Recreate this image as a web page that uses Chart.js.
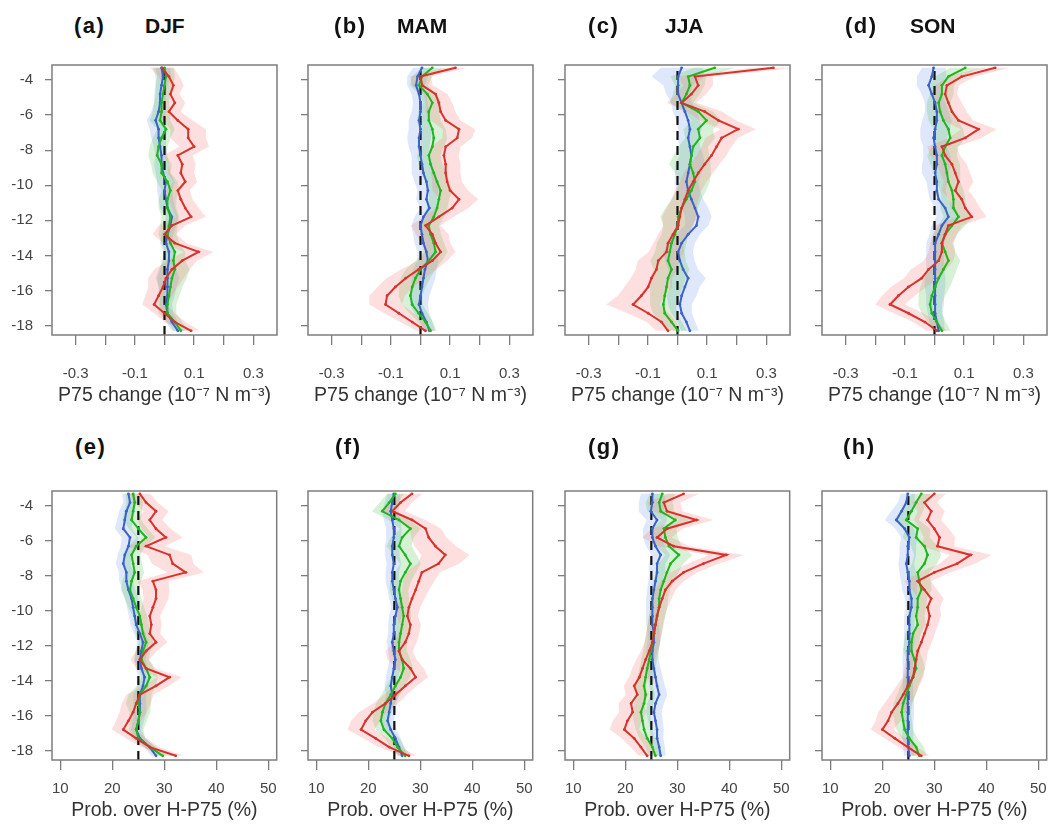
<!DOCTYPE html>
<html><head><meta charset="utf-8">
<script src="https://cdn.jsdelivr.net/npm/chart.js@4.4.1/dist/chart.umd.min.js"></script>
<style>
body{margin:0;background:#fff;width:1055px;height:830px;position:relative;overflow:hidden;font-family:"Liberation Sans",Arial,sans-serif;}
canvas{position:absolute;}
.lab{position:absolute;font-weight:bold;font-size:22px;line-height:22px;color:#111;white-space:nowrap;}
</style></head><body>
<script>
// ---------- data ----------
const levels = [-3.3,-3.8,-4.3,-4.8,-5.3,-5.8,-6.3,-6.8,-7.3,-7.8,-8.3,-8.8,-9.3,-9.8,-10.3,-10.8,-11.3,-11.8,-12.3,-12.8,-13.3,-13.8,-14.3,-14.8,-15.3,-15.8,-16.3,-16.8,-17.3,-17.8,-18.3];
const yTicks = [-4,-6,-8,-10,-12,-14,-16,-18];
const topXTicks = [-0.3,-0.2,-0.1,0,0.1,0.2,0.3];
const bottomXTicks = [10,20,30,40,50];
const panelLetters = ['(a)','(b)','(c)','(d)','(e)','(f)','(g)','(h)'];
const seasons = ['DJF','MAM','JJA','SON'];
const topRef = 0;
const bottomRef = 25;

// (a) DJF P75 change
const aBlue  = [-0.01,-0.005,-0.01,-0.015,-0.015,-0.02,-0.03,-0.02,-0.02,-0.015,-0.01,-0.01,-0.005,0.005,0.0,0.005,0.01,0.025,0.02,0.01,0.005,0.015,0.015,0.01,0.01,0.01,0.01,0.005,0.01,0.025,0.045];
const aGreen = [0.0,0.005,0.0,-0.005,-0.01,-0.01,-0.015,0.005,-0.01,-0.02,-0.025,-0.01,-0.01,0.01,0.02,0.01,0.01,0.02,0.015,0.01,0.02,0.035,0.03,0.035,0.025,0.02,0.015,0.01,0.01,0.035,0.055];
const aRed   = [-0.008,0.015,0.03,0.02,0.035,0.015,0.045,0.08,0.08,0.1,0.045,0.06,0.055,0.07,0.045,0.055,0.07,0.09,0.025,0.0,0.035,0.115,0.06,0.025,0.005,-0.005,-0.02,-0.035,0.0,0.035,0.09];
const aBlueSd  = [0.03,0.025,0.02,0.02,0.02,0.025,0.03,0.03,0.025,0.02,0.02,0.025,0.025,0.03,0.025,0.025,0.025,0.02,0.02,0.02,0.02,0.02,0.02,0.03,0.04,0.03,0.025,0.02,0.02,0.02,0.02];
const aGreenSd = [0.03,0.03,0.03,0.025,0.025,0.03,0.035,0.03,0.03,0.03,0.03,0.035,0.03,0.035,0.03,0.03,0.03,0.03,0.03,0.03,0.03,0.035,0.04,0.05,0.05,0.04,0.035,0.03,0.03,0.025,0.025];
const aRedSd   = [0.04,0.035,0.035,0.03,0.035,0.04,0.05,0.06,0.06,0.05,0.05,0.045,0.045,0.04,0.04,0.04,0.045,0.05,0.045,0.04,0.04,0.05,0.05,0.06,0.06,0.05,0.045,0.04,0.035,0.035,0.03];

// (b) MAM P75 change
const bBlue  = [0.005,-0.01,-0.015,-0.005,0.0,0.0,-0.005,0.0,-0.005,-0.005,0.0,0.005,0.01,0.02,0.025,0.02,0.03,0.01,0.0,0.005,0.01,0.02,0.025,0.015,0.01,0.005,0.0,-0.005,0.005,0.02,0.03];
const bGreen = [0.04,0.005,-0.005,0.023,0.04,0.028,0.028,0.04,0.045,0.04,0.028,0.034,0.045,0.056,0.068,0.062,0.056,0.045,0.028,0.034,0.045,0.051,0.028,0.0,-0.017,-0.028,-0.034,-0.028,-0.006,0.017,0.034];
const bRed   = [0.118,0.0,0.006,0.051,0.062,0.068,0.085,0.13,0.124,0.085,0.079,0.085,0.085,0.09,0.1,0.13,0.107,0.062,0.017,0.04,0.051,0.068,0.04,-0.006,-0.05,-0.085,-0.113,-0.118,-0.073,-0.028,0.017];
const bBlueSd  = [0.03,0.035,0.03,0.025,0.025,0.03,0.035,0.04,0.04,0.035,0.03,0.035,0.04,0.04,0.035,0.035,0.03,0.03,0.03,0.03,0.03,0.03,0.035,0.04,0.04,0.035,0.03,0.03,0.025,0.02,0.02];
const bGreenSd = [0.035,0.035,0.03,0.03,0.03,0.035,0.04,0.045,0.045,0.04,0.04,0.04,0.045,0.04,0.04,0.035,0.035,0.035,0.035,0.035,0.035,0.04,0.045,0.05,0.05,0.045,0.04,0.035,0.03,0.025,0.02];
const bRedSd   = [0.04,0.035,0.035,0.04,0.045,0.05,0.05,0.055,0.05,0.05,0.05,0.05,0.05,0.05,0.06,0.065,0.055,0.05,0.05,0.055,0.05,0.05,0.05,0.06,0.065,0.06,0.06,0.055,0.05,0.04,0.03];

// (c) JJA P75 change
const cBlue  = [0.014,0.002,0.002,0.002,0.014,0.025,0.036,0.042,0.036,0.042,0.047,0.042,0.036,0.03,0.036,0.047,0.059,0.07,0.064,0.036,0.014,0.002,0.008,0.019,0.036,0.025,0.014,0.008,0.014,0.03,0.042];
const cGreen = [0.126,0.036,0.042,0.03,0.014,0.07,0.098,0.07,0.076,0.053,0.047,0.042,0.053,0.059,0.047,0.03,0.014,0.002,0.002,-0.009,-0.02,-0.026,-0.032,-0.02,-0.032,-0.037,-0.043,-0.048,-0.043,-0.02,0.002];
const cRed   = [0.324,0.059,0.07,0.047,0.014,0.092,0.138,0.205,0.149,0.132,0.115,0.092,0.07,0.053,0.036,0.025,0.014,0.008,0.002,-0.015,-0.032,-0.037,-0.065,-0.071,-0.088,-0.099,-0.122,-0.15,-0.099,-0.054,-0.032];
const cBlueSd  = [0.07,0.09,0.05,0.04,0.035,0.04,0.04,0.04,0.035,0.035,0.04,0.05,0.045,0.04,0.04,0.04,0.045,0.045,0.04,0.04,0.045,0.05,0.05,0.05,0.06,0.05,0.05,0.04,0.035,0.03,0.03];
const cGreenSd = [0.07,0.06,0.05,0.045,0.04,0.05,0.05,0.05,0.05,0.05,0.06,0.07,0.06,0.05,0.05,0.05,0.055,0.06,0.05,0.045,0.05,0.05,0.06,0.06,0.06,0.055,0.05,0.045,0.04,0.035,0.03];
const cRedSd   = [0.07,0.06,0.05,0.05,0.05,0.06,0.06,0.06,0.055,0.05,0.05,0.05,0.05,0.045,0.045,0.045,0.05,0.06,0.05,0.05,0.05,0.06,0.07,0.07,0.07,0.08,0.08,0.09,0.07,0.05,0.04];

// (d) SON P75 change
const dBlue  = [-0.003,-0.009,-0.02,-0.009,0.002,0.008,0.008,0.002,-0.003,0.002,0.008,0.008,0.002,0.008,0.008,0.014,0.036,0.047,0.025,0.014,0.002,0.002,0.002,0.002,0.002,0.002,0.002,0.002,0.002,0.008,0.014];
const dGreen = [0.104,0.047,0.025,0.025,0.014,0.019,0.03,0.047,0.053,0.036,0.025,0.036,0.042,0.047,0.059,0.064,0.064,0.081,0.059,0.036,0.025,0.036,0.047,0.03,0.014,0.002,-0.009,-0.015,-0.009,0.008,0.025];
const dRed   = [0.205,0.092,0.042,0.036,0.047,0.059,0.081,0.149,0.104,0.025,0.036,0.059,0.07,0.081,0.07,0.092,0.104,0.126,0.047,0.036,0.025,0.025,0.014,-0.02,-0.043,-0.088,-0.122,-0.15,-0.088,-0.032,0.008];
const dBlueSd  = [0.04,0.05,0.04,0.035,0.035,0.04,0.05,0.05,0.045,0.04,0.045,0.05,0.045,0.035,0.03,0.03,0.035,0.04,0.035,0.03,0.03,0.03,0.03,0.03,0.035,0.035,0.03,0.03,0.025,0.025,0.02];
const dGreenSd = [0.05,0.045,0.04,0.04,0.04,0.045,0.05,0.05,0.05,0.045,0.05,0.05,0.045,0.04,0.04,0.04,0.045,0.05,0.045,0.04,0.035,0.035,0.04,0.045,0.05,0.05,0.045,0.04,0.035,0.03,0.03];
const dRedSd   = [0.05,0.045,0.04,0.04,0.045,0.05,0.05,0.06,0.055,0.05,0.05,0.05,0.05,0.05,0.045,0.045,0.05,0.05,0.045,0.04,0.04,0.045,0.05,0.06,0.06,0.06,0.055,0.05,0.05,0.04,0.035];

// (e) DJF probability
const eBlue  = [23.1,23.4,22.7,22.4,22.1,23.4,23.1,22.4,22.1,22.7,22.7,23.1,23.7,24.0,24.3,24.6,25.3,25.9,25.6,25.3,25.6,26.2,25.9,25.3,25.3,25.3,25.0,24.6,25.3,27.2,28.4];
const eGreen = [24.0,24.3,24.0,23.7,25.0,26.5,24.6,23.7,24.0,24.3,23.7,23.4,24.0,24.6,25.3,25.6,25.9,26.5,25.9,25.6,26.5,27.2,26.5,25.3,25.0,25.3,25.0,24.6,25.0,27.2,29.7];
const eRed   = [25.3,26.5,28.4,27.2,28.4,30.3,26.5,31.0,31.6,34.1,27.8,28.4,28.4,27.8,27.2,27.5,27.2,28.4,26.5,25.3,26.5,31.0,28.4,25.3,24.6,24.0,23.1,22.1,24.6,27.2,32.2];
const eBlueSd  = [1.2,1.3,1.4,1.5,1.6,1.6,1.5,1.4,1.4,1.4,1.3,1.3,1.3,1.2,1.1,1.1,1.1,1.1,1.1,1.1,1.1,1.1,1.1,1.2,1.3,1.2,1.1,1.0,1.0,1.0,1.0];
const eGreenSd = [1.5,1.6,1.7,1.8,1.8,1.8,1.7,1.7,1.7,1.8,1.8,1.7,1.6,1.5,1.4,1.4,1.4,1.4,1.4,1.4,1.5,1.6,1.8,2.2,2.4,2.0,1.6,1.4,1.3,1.2,1.2];
const eRedSd   = [2.0,2.2,2.4,2.4,2.8,3.2,3.6,4.2,4.0,3.5,3.0,2.6,2.4,2.2,2.0,2.0,2.0,2.2,2.0,1.8,1.8,2.4,2.4,2.6,2.8,2.6,2.4,2.2,2.0,1.8,1.6];

// (f) MAM probability
const fBlue  = [24.9,24.6,24.3,24.6,24.9,24.9,24.6,24.6,24.9,24.6,24.6,24.9,25.2,25.6,25.2,24.9,24.9,24.6,24.9,25.2,24.9,24.6,24.3,24.6,24.3,24.0,23.7,24.3,25.2,25.9,26.5];
const fGreen = [25.2,24.0,22.7,25.9,28.1,26.5,25.9,27.1,28.1,27.1,26.2,25.9,26.2,26.5,26.8,26.5,26.2,25.9,25.9,26.5,26.8,26.2,25.2,24.3,23.3,22.7,22.4,23.0,24.6,25.6,27.1];
const fRed   = [28.4,26.2,24.6,28.4,31.0,31.6,32.9,34.8,33.5,30.3,29.7,29.1,28.4,27.8,27.5,28.1,27.8,27.1,25.9,26.5,28.1,29.1,27.1,25.2,23.3,20.8,19.5,18.6,21.4,24.0,27.8];
const fBlueSd  = [1.2,1.4,1.6,1.6,1.5,1.4,1.4,1.4,1.4,1.3,1.3,1.2,1.2,1.2,1.2,1.1,1.1,1.1,1.1,1.1,1.2,1.2,1.2,1.2,1.2,1.2,1.2,1.1,1.0,1.0,1.0];
const fGreenSd = [1.6,1.8,2.0,2.0,2.0,2.2,2.4,2.2,2.0,2.0,2.0,1.8,1.6,1.5,1.5,1.5,1.5,1.5,1.5,1.6,1.8,1.8,1.8,1.8,1.8,1.8,1.6,1.5,1.4,1.3,1.2];
const fRedSd   = [2.0,2.2,2.4,2.6,3.0,3.4,4.0,4.6,4.0,3.4,3.0,2.6,2.4,2.2,2.0,2.0,2.0,2.2,2.6,2.8,2.6,2.4,2.2,2.2,2.4,2.6,2.8,2.6,2.4,2.0,1.6];

// (g) JJA probability
const gBlue  = [25.2,25.2,24.9,26.1,25.2,25.2,25.8,26.8,26.1,26.1,25.8,25.5,25.2,25.2,25.2,25.2,25.5,25.5,25.2,25.2,25.5,25.8,26.1,26.5,25.8,25.5,25.8,26.1,26.1,26.5,26.8];
const gGreen = [27.1,26.5,26.8,29.6,27.4,27.7,28.4,30.3,28.7,28.0,27.4,26.8,26.5,26.5,26.1,25.8,25.5,25.2,24.9,24.6,24.2,23.9,23.6,23.9,23.6,23.0,23.3,23.6,24.2,25.2,25.8];
const gRed   = [31.2,27.4,28.0,33.7,28.0,26.1,29.3,39.4,35.0,31.2,29.0,27.7,27.1,26.5,26.1,25.8,25.5,25.2,24.6,23.9,23.3,22.7,21.7,22.3,21.1,21.4,20.4,19.8,21.7,23.0,24.2];
const gBlueSd  = [2.2,2.6,2.4,2.0,1.8,1.8,1.8,1.8,1.6,1.5,1.4,1.3,1.2,1.2,1.2,1.2,1.2,1.2,1.2,1.2,1.3,1.4,1.5,1.6,1.6,1.5,1.4,1.3,1.2,1.1,1.0];
const gGreenSd = [2.4,2.6,2.6,2.6,2.4,2.4,2.4,2.6,2.4,2.2,2.0,1.8,1.7,1.6,1.6,1.5,1.5,1.5,1.5,1.5,1.5,1.6,1.7,1.8,1.8,1.8,1.7,1.6,1.5,1.4,1.3];
const gRedSd   = [3.0,3.2,3.0,3.2,3.0,2.8,3.0,3.4,3.0,2.6,2.2,2.0,1.8,1.6,1.5,1.5,1.5,1.5,1.6,1.8,2.0,2.0,2.0,2.2,2.4,2.6,2.8,2.8,2.4,2.0,1.6];

// (h) SON probability
const hBlue  = [24.9,24.6,23.7,22.7,24.3,25.2,24.9,24.9,24.6,24.9,25.2,25.2,25.6,25.6,25.2,25.2,25.2,25.2,24.9,24.9,24.9,24.9,24.9,24.9,24.9,24.9,24.9,24.9,24.9,25.0,25.2];
const hGreen = [27.5,26.5,25.6,24.6,26.8,26.5,28.1,28.7,28.1,26.8,27.1,27.5,26.8,26.8,26.5,26.8,25.9,25.6,25.6,26.2,26.5,25.9,25.2,24.6,24.0,23.7,24.0,24.3,25.2,26.5,27.1];
const hRed   = [30.0,28.1,29.4,28.7,30.0,31.0,30.6,37.0,34.4,30.0,26.8,28.1,29.4,28.7,29.1,28.7,28.1,27.5,26.8,26.5,26.2,25.9,24.9,24.0,23.0,21.8,21.1,20.0,22.4,24.9,27.5];
const hBlueSd  = [1.4,1.6,2.0,2.2,1.8,1.6,1.6,1.6,1.5,1.6,1.6,1.4,1.2,1.1,1.0,1.0,1.0,1.0,1.0,1.0,1.0,1.0,1.0,1.1,1.2,1.2,1.1,1.0,1.0,1.0,1.0];
const hGreenSd = [1.8,2.0,2.2,2.4,2.4,2.6,2.6,2.6,2.4,2.2,2.2,2.0,1.8,1.7,1.6,1.6,1.5,1.5,1.5,1.6,1.7,1.7,1.7,1.8,1.8,1.8,1.7,1.6,1.5,1.5,1.4];
const hRedSd   = [2.2,2.4,2.6,2.6,2.8,3.0,3.2,4.0,3.4,3.0,2.6,2.4,2.4,2.4,2.2,2.0,2.0,2.0,2.0,2.0,2.0,2.0,2.2,2.4,2.6,2.6,2.4,2.2,2.0,1.8,1.6];

// ---------- layout / style ----------
const FONT = '"Liberation Sans", Arial, Helvetica, sans-serif';
Chart.defaults.font.family = FONT;
const Y_MIN = -18.54, Y_MAX = -3.14;
const boxLefts = [52, 308, 565, 822];
const rows = [
  {boxTop:52,  boxBottom:335, canvasBottom:407, boxWidth:225, xMin:-0.38, xMax:0.38, xTicks:topXTicks,
   title:'P75 change (10\u207B\u2077 N m\u207B\u00B3)', tickPad:20, ref:topRef, labelTop:15},
  {boxTop:478, boxBottom:760, canvasBottom:822, boxWidth:227, xMin:8.4, xMax:51.6, xTicks:bottomXTicks,
   title:'Prob. over H-P75 (%)', tickPad:10, ref:bottomRef, labelTop:436}
];
const letterX = [74, 334, 588, 845, 75, 335, 588, 843];
const seasonX = [145, 397, 665, 910];
const COLORS = {
  blue:  {line:'#3b62c8', fill:'rgba(110,150,235,0.22)'},
  green: {line:'#1fb51f', fill:'rgba(70,190,70,0.22)'},
  red:   {line:'#d8322c', fill:'rgba(245,120,120,0.24)'}
};
const panels = [
  {row:0,col:0,blue:aBlue,green:aGreen,red:aRed,blueSd:aBlueSd,greenSd:aGreenSd,redSd:aRedSd},
  {row:0,col:1,blue:bBlue,green:bGreen,red:bRed,blueSd:bBlueSd,greenSd:bGreenSd,redSd:bRedSd},
  {row:0,col:2,blue:cBlue,green:cGreen,red:cRed,blueSd:cBlueSd,greenSd:cGreenSd,redSd:cRedSd},
  {row:0,col:3,blue:dBlue,green:dGreen,red:dRed,blueSd:dBlueSd,greenSd:dGreenSd,redSd:dRedSd},
  {row:1,col:0,blue:eBlue,green:eGreen,red:eRed,blueSd:eBlueSd,greenSd:eGreenSd,redSd:eRedSd},
  {row:1,col:1,blue:fBlue,green:fGreen,red:fRed,blueSd:fBlueSd,greenSd:fGreenSd,redSd:fRedSd},
  {row:1,col:2,blue:gBlue,green:gGreen,red:gRed,blueSd:gBlueSd,greenSd:gGreenSd,redSd:gRedSd},
  {row:1,col:3,blue:hBlue,green:hGreen,red:hRed,blueSd:hBlueSd,greenSd:hGreenSd,redSd:hRedSd}
];

const boxPlugin = {
  id:'box',
  afterDatasetsDraw(chart){
    const {ctx, chartArea:{left,top,width,height}} = chart;
    ctx.save(); ctx.strokeStyle='#7d7d7d'; ctx.lineWidth=1.5;
    ctx.strokeRect(left,top,width,height); ctx.restore();
  }
};

function profile(vals){ return levels.map((L,i)=>({x:vals[i], y:L})); }
function envelope(vals, sd){
  const up = levels.map((L,i)=>({x:vals[i]+sd[i], y:L}));
  const lo = levels.map((L,i)=>({x:vals[i]-sd[i], y:L})).reverse();
  return up.concat(lo);
}
function lineDs(vals, col, order){
  return {data:profile(vals), showLine:true, borderColor:col.line, backgroundColor:col.line,
    borderWidth:2, pointRadius:1.4, pointBorderWidth:0, pointBackgroundColor:col.line, fill:false, order};
}
function envDs(vals, sd, col, order){
  return {data:envelope(vals, sd), showLine:true, fill:'shape', backgroundColor:col.fill,
    borderColor:'rgba(0,0,0,0)', borderWidth:0, pointRadius:0, order};
}

panels.forEach((p, idx) => {
  const row = rows[p.row];
  const left = boxLefts[p.col] - 52;
  const top = row.boxTop - 8;
  const w = 52 + row.boxWidth + 8;
  const h = row.canvasBottom - top;
  const cv = document.createElement('canvas');
  cv.width = w; cv.height = h;
  cv.style.left = left + 'px'; cv.style.top = top + 'px';
  cv.style.width = w + 'px'; cv.style.height = h + 'px';
  document.body.appendChild(cv);

  const showY = p.col === 0;
  const isTop = p.row === 0;
  new Chart(cv, {
    type:'scatter',
    data:{datasets:[
      envDs(p.blue, p.blueSd, COLORS.blue, 7),
      envDs(p.green, p.greenSd, COLORS.green, 6),
      envDs(p.red, p.redSd, COLORS.red, 5),
      {data:[{x:row.ref, y:Y_MIN},{x:row.ref, y:Y_MAX}], showLine:true, borderColor:'#111',
        borderWidth:2.2, borderDash:[9,6], pointRadius:0, fill:false, order:4},
      lineDs(p.blue, COLORS.blue, 3),
      lineDs(p.green, COLORS.green, 2),
      lineDs(p.red, COLORS.red, 1)
    ]},
    options:{
      responsive:false, animation:false, events:[],
      layout:{padding:{top:8, right:8, left:0, bottom:0}},
      plugins:{legend:{display:false}, tooltip:{enabled:false}},
      scales:{
        x:{type:'linear', min:row.xMin, max:row.xMax,
          afterBuildTicks:s=>{ s.ticks = row.xTicks.map(v=>({value:v})); },
          afterFit:s=>{ s.height = row.canvasBottom - row.boxBottom; },
          grid:{display:true, drawOnChartArea:false, drawTicks:true, tickLength:10, color:'#7d7d7d', lineWidth:1.3},
          border:{display:false},
          ticks:{autoSkip:false, maxRotation:0, padding:row.tickPad, color:'#444', font:{size:15},
            callback:v=>{
              if (isTop) { const k = Math.round(v*10); return Math.abs(k)%2===1 ? (k/10).toFixed(1) : ''; }
              return String(v);
            }},
          title:{display:true, text:row.title, color:'#333', padding:0, font:{size:19.5}}
        },
        y:{type:'linear', min:Y_MIN, max:Y_MAX,
          afterBuildTicks:s=>{ s.ticks = yTicks.map(v=>({value:v})); },
          afterFit:s=>{ s.width = 52; },
          grid:{display:true, drawOnChartArea:false, drawTicks:true, tickLength:7, color:'#7d7d7d', lineWidth:1.3},
          border:{display:false},
          ticks:{autoSkip:false, padding:12, color:'#444', font:{size:15},
            callback:v=> showY ? String(v) : ''}
        }
      }
    },
    plugins:[boxPlugin]
  });

  const lab = document.createElement('div');
  lab.className = 'lab';
  lab.style.left = letterX[idx] + 'px';
  lab.style.top = row.labelTop + 'px';
  lab.style.letterSpacing = '1.5px';
  lab.textContent = panelLetters[idx];
  document.body.appendChild(lab);
  if (isTop) {
    const s = document.createElement('div');
    s.className = 'lab';
    s.style.left = seasonX[p.col] + 'px';
    s.style.top = row.labelTop + 'px';
    s.style.fontSize = '21px';
    s.textContent = seasons[p.col];
    document.body.appendChild(s);
  }
});
</script>
</body></html>
